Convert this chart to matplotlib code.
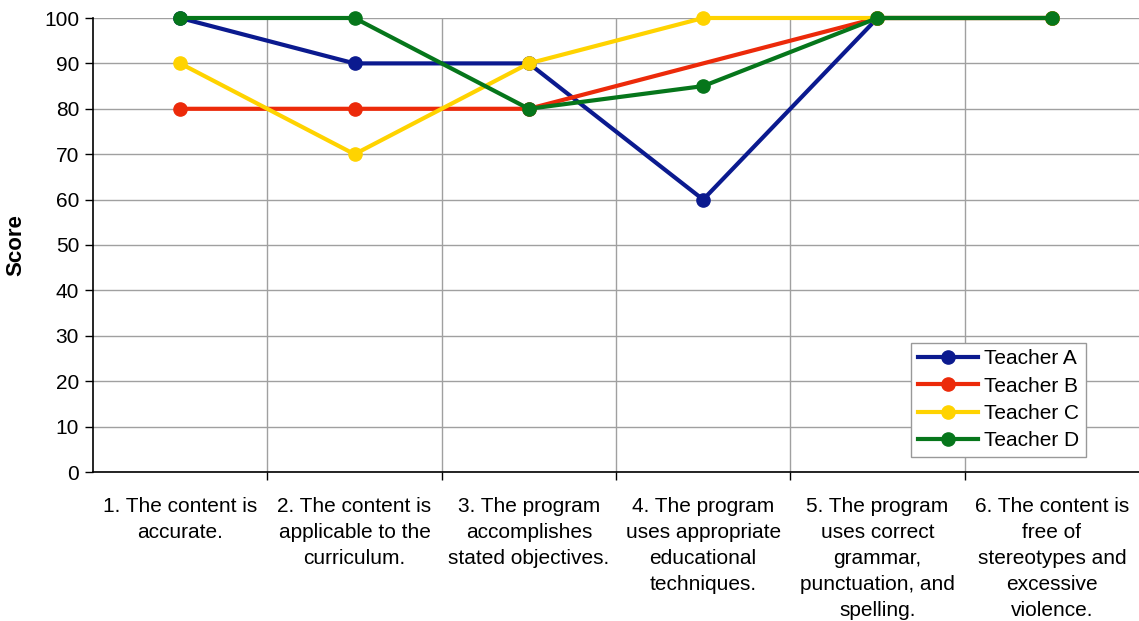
import numpy as np
import matplotlib.pyplot as plt

plt.rcParams['font.family'] = ['Liberation Sans', 'DejaVu Sans']

criteria = [
    "1. The content is\naccurate.",
    "2. The content is\napplicable to the\ncurriculum.",
    "3. The program\naccomplishes\nstated objectives.",
    "4. The program\nuses appropriate\neducational\ntechniques.",
    "5. The program\nuses correct\ngrammar,\npunctuation, and\nspelling.",
    "6. The content is\nfree of\nstereotypes and\nexcessive\nviolence.",
]

teacher_a = [100, 90, 90, 60, 100, 100]
teacher_b = [80, 80, 80, None, 100, 100]   # no rating for item 4
teacher_c = [90, 70, 90, 100, 100, 100]
teacher_d = [100, 100, 80, 85, 100, 100]

series = [
    ("Teacher A", teacher_a, "#0b1a8f"),
    ("Teacher B", teacher_b, "#ec2a0a"),
    ("Teacher C", teacher_c, "#ffd300"),
    ("Teacher D", teacher_d, "#06761b"),
]

fig = plt.figure(figsize=(11.39, 6.21), dpi=100)
ax = fig.add_axes([93 / 1139, 1 - 472 / 621, 1046 / 1139, 454 / 621])

x = np.arange(len(criteria))
for name, vals, color in series:
    v = np.array([np.nan if s is None else s for s in vals], dtype=float)
    ok = ~np.isnan(v)
    ax.plot(x[ok], v[ok], color=color, lw=3, marker='o', ms=9.5,
            label=name, clip_on=False, zorder=3)

ax.set_xlim(-0.5, len(criteria) - 0.5)
ax.set_ylim(0, 100)
ax.set_yticks(range(0, 101, 10))
ax.set_xticks(x)
ax.set_xticklabels(criteria, fontsize=15, linespacing=1.46)
ax.set_xticks(np.arange(0.5, len(criteria) - 0.5), minor=True)
ax.tick_params(axis='x', which='major', length=0, pad=18)
ax.tick_params(axis='x', which='minor', length=6, width=1, color='black')
ax.tick_params(axis='y', labelsize=15, length=6, width=1, pad=4)

ax.grid(axis='y', which='major', color='#a0a0a0', lw=1)
ax.grid(axis='x', which='minor', color='#a0a0a0', lw=1)
ax.set_axisbelow(True)

for s in ['top', 'right']:
    ax.spines[s].set_visible(False)
ax.spines['left'].set_linewidth(1.2)
ax.spines['bottom'].set_linewidth(1.2)

ax.set_ylabel("Score", fontsize=16, fontweight='bold', labelpad=13)

leg = ax.legend(loc='lower right', bbox_to_anchor=(0.949, 0.034),
                fontsize=15, fancybox=False, framealpha=1,
                edgecolor='#999999', handlelength=2.9, borderpad=0.3,
                labelspacing=0.4, handletextpad=0.3, borderaxespad=0)
leg.get_frame().set_linewidth(1)

fig.savefig("out.png", dpi=100)
